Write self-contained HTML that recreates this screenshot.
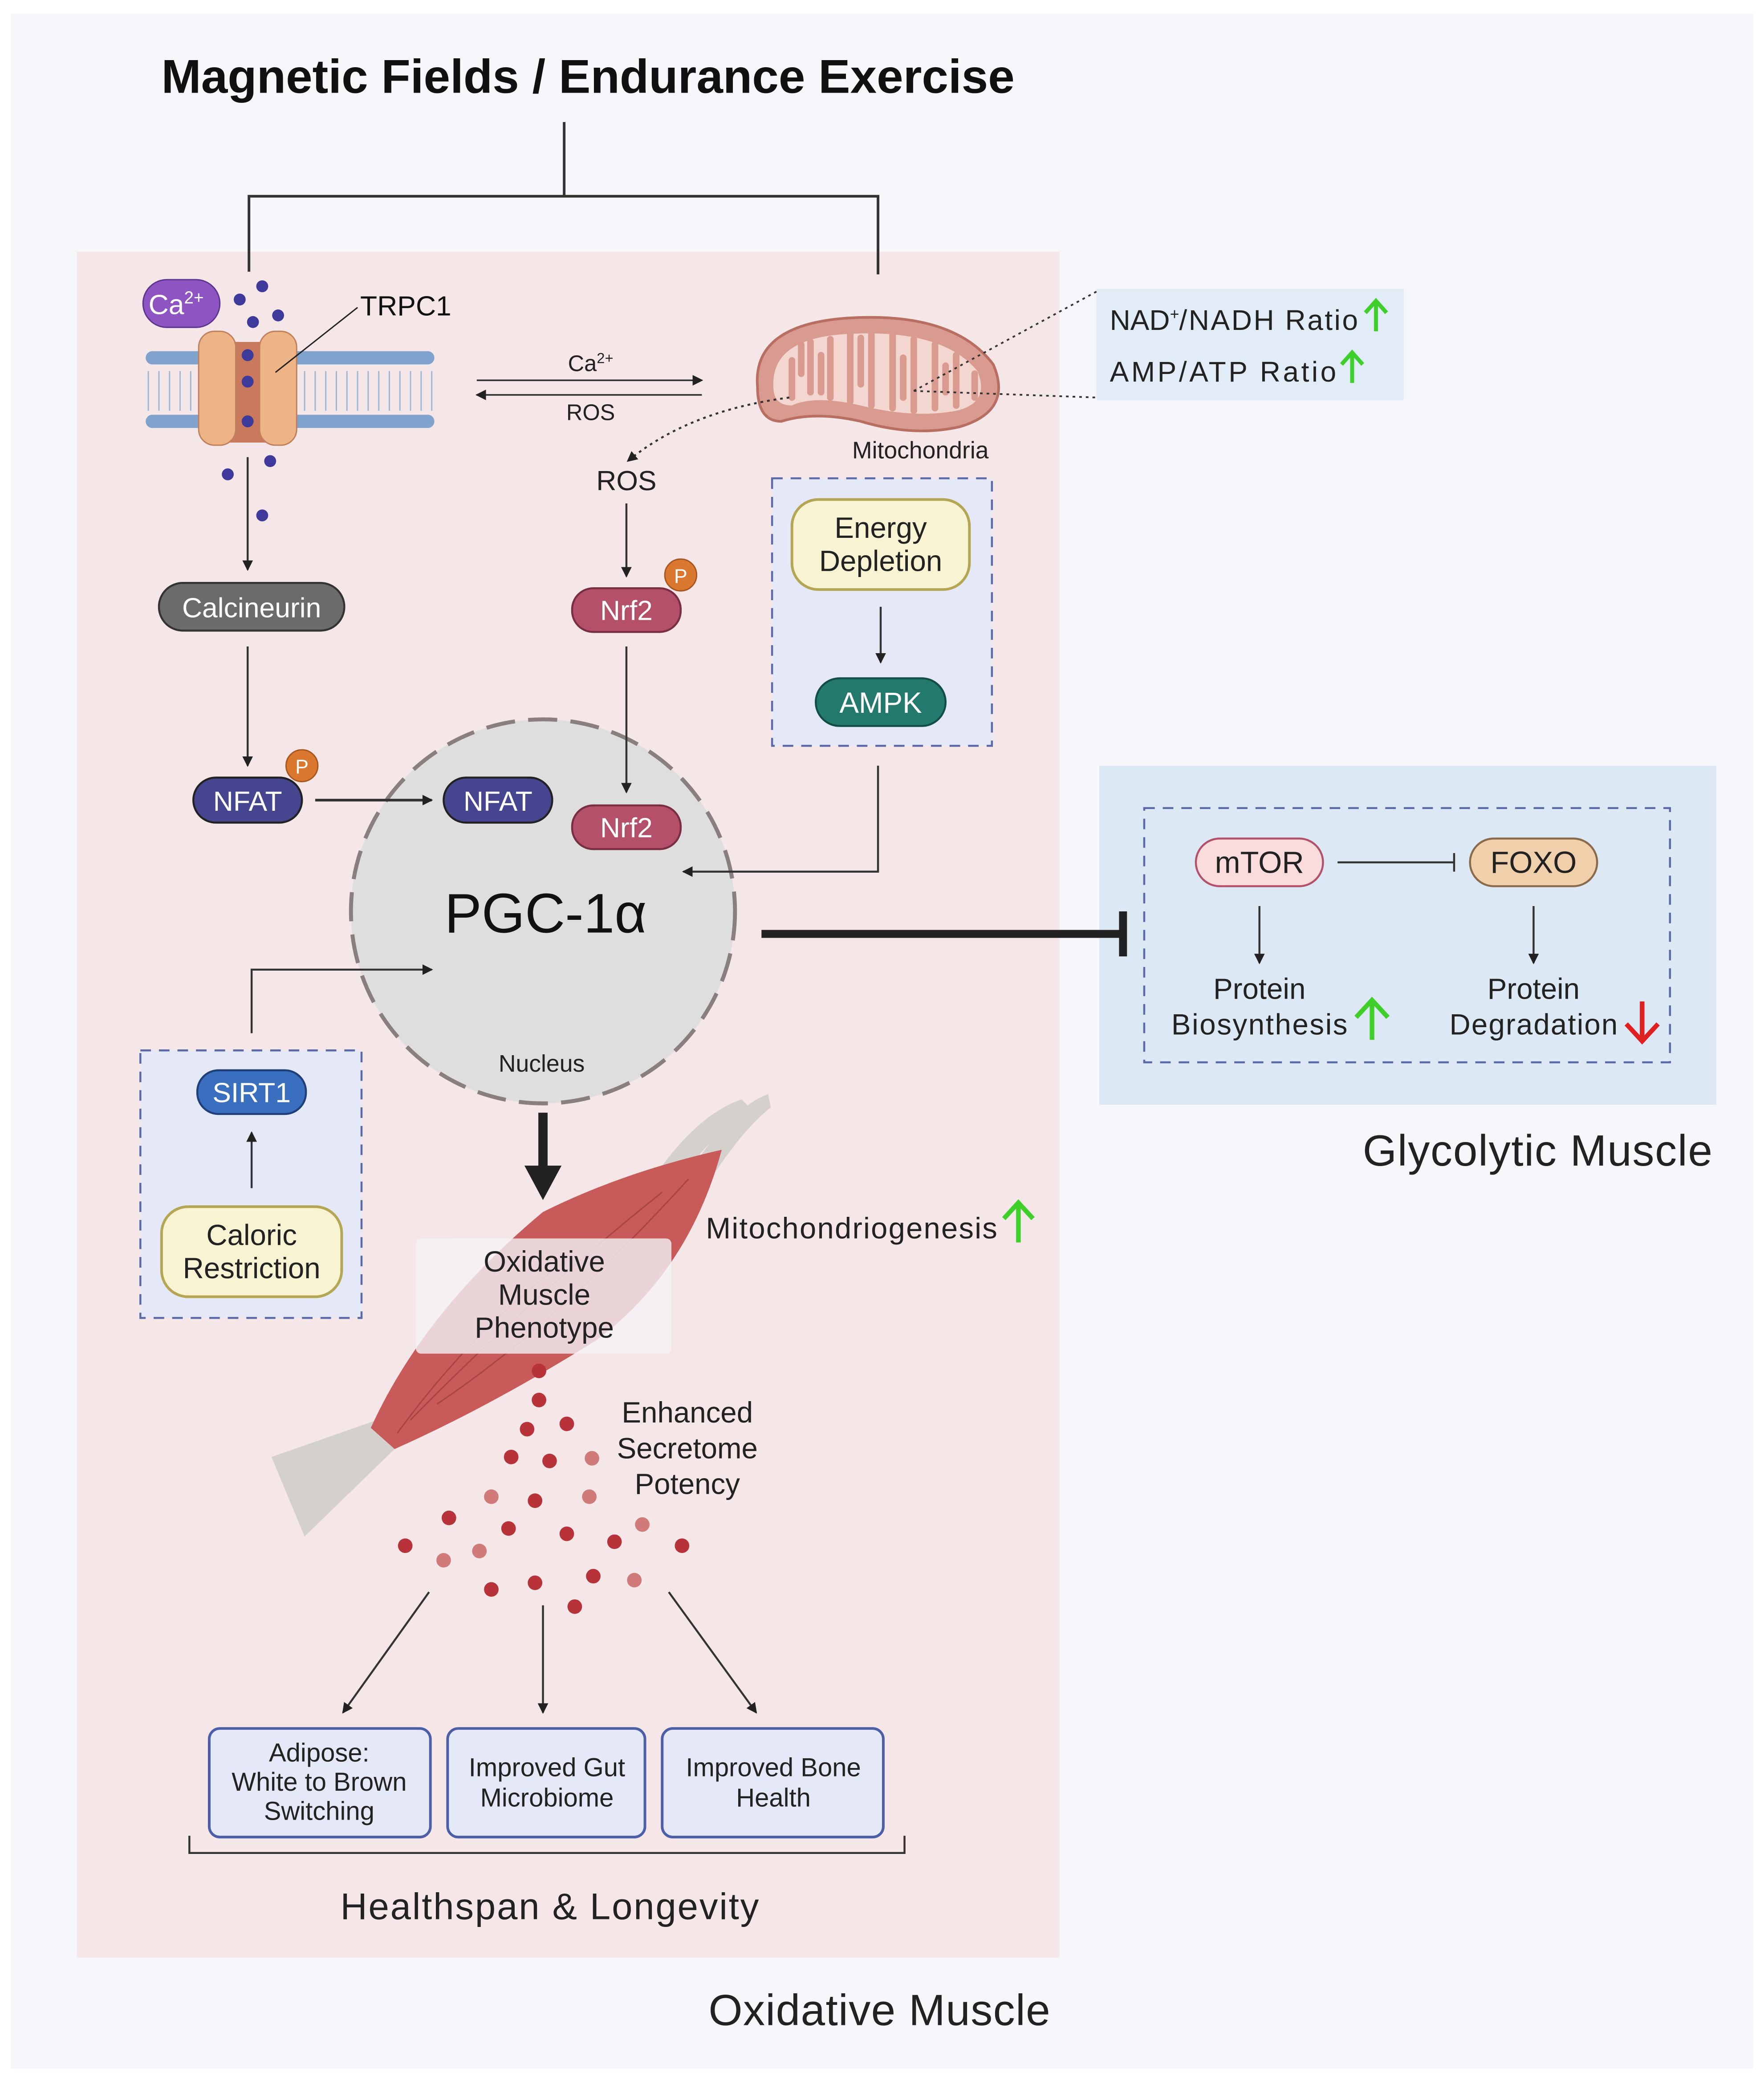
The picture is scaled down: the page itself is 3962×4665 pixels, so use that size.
<!DOCTYPE html>
<html><head><meta charset="utf-8"><style>
html,body{margin:0;padding:0;background:#fff;}
svg{display:block;font-family:"Liberation Sans",sans-serif;}
</style></head><body>
<svg width="3962" height="4665" viewBox="0 0 1332 1568" xmlns="http://www.w3.org/2000/svg">
<defs>
<marker id="a" markerWidth="8" markerHeight="8" refX="7" refY="4" orient="auto" markerUnits="userSpaceOnUse"><path d="M0,0 L8,4 L0,8 z" fill="#222"/></marker>
</defs>
<rect width="1332" height="1568" fill="#fff"/>
<rect x="8" y="10" width="1316" height="1552" fill="#f6f7fb"/>
<rect x="58" y="190" width="742" height="1288" fill="#f5e6e7"/>
<rect x="830" y="578" width="466" height="256" fill="#dce9f5"/>
<rect x="828" y="218" width="232" height="84" fill="#e1ecf7"/>

<text x="444" y="70" font-size="36" font-weight="bold" text-anchor="middle" fill="#111">Magnetic Fields / Endurance Exercise</text>
<path d="M426,92 V148 M188,205 V148 H663 V207" stroke="#333" stroke-width="2" fill="none"/>

<g fill="#7fa3cc">
<rect x="110" y="265" width="218" height="10" rx="5"/>
<rect x="110" y="313" width="218" height="10" rx="5"/>
</g>
<g stroke="#9cb8d8" stroke-width="1">
<path d="M112,280 V310 M120,280 V310 M128,280 V310 M136,280 V310 M144,280 V310 M230,280 V310 M238,280 V310 M246,280 V310 M254,280 V310 M262,280 V310 M270,280 V310 M278,280 V310 M286,280 V310 M294,280 V310 M302,280 V310 M310,280 V310 M318,280 V310 M326,280 V310"/>
</g>
<rect x="165" y="258" width="46" height="76" fill="#c97a5c"/>
<rect x="150" y="250" width="28" height="86" rx="12" fill="#eeb485" stroke="#c08060"/>
<rect x="196" y="250" width="28" height="86" rx="12" fill="#eeb485" stroke="#c08060"/>
<g fill="#3d3a9c"><circle cx="187" cy="268" r="4.5"/><circle cx="187" cy="288" r="4.5"/><circle cx="187" cy="318" r="4.5"/>
<circle cx="198" cy="216" r="4.5"/><circle cx="181" cy="226" r="4.5"/><circle cx="191" cy="243" r="4.5"/><circle cx="210" cy="238" r="4.5"/>
<circle cx="172" cy="358" r="4.5"/><circle cx="204" cy="348" r="4.5"/><circle cx="198" cy="389" r="4.5"/></g>
<rect x="108" y="211" width="58" height="36" rx="18" fill="#8e55c2" stroke="#5d3590"/>
<text x="133" y="237" font-size="21" fill="#fff" text-anchor="middle">Ca<tspan font-size="13" dy="-8">2+</tspan></text>
<path d="M208,281 L270,232" stroke="#222" stroke-width="1"/>
<text x="272" y="238" font-size="21" fill="#111">TRPC1</text>

<line x1="360" y1="287" x2="530" y2="287" stroke="#333" stroke-width="1.2" marker-end="url(#a)"/>
<line x1="530" y1="298" x2="360" y2="298" stroke="#333" stroke-width="1.2" marker-end="url(#a)"/>
<text x="446" y="280" font-size="17" text-anchor="middle" fill="#222">Ca<tspan font-size="11" dy="-6">2+</tspan></text>
<text x="446" y="317" font-size="17" text-anchor="middle" fill="#222">ROS</text>

<path d="M572,292 Q568,245 640,240 Q720,235 750,275 Q765,310 725,322 Q690,330 650,318 Q615,310 590,318 Q572,318 572,292 z" fill="#d99b8f" stroke="#b96e62" stroke-width="2"/>
<path d="M584,292 Q582,255 640,252 Q712,248 738,280 Q748,304 722,310 Q690,316 650,306 Q615,298 598,306 Q584,306 584,292 z" fill="#f3d6d0"/>
<path d="M598,300 V272 M612,296 V258 M627,300 V256 M642,303 V252 M658,306 V252 M674,308 V252 M690,310 V256 M706,308 V260 M722,306 V268 M736,300 V282 M605,260 V282 M620,296 V268 M650,290 V255 M682,300 V270 M714,296 V276" stroke="#d99b8f" stroke-width="5" stroke-linecap="round"/>
<text x="695" y="346" font-size="18" text-anchor="middle" fill="#222">Mitochondria</text>
<path d="M596,300 Q520,310 474,348" stroke="#333" stroke-width="1.5" stroke-dasharray="2,3" fill="none" marker-end="url(#a)"/>
<path d="M690,295 L828,220 M690,295 L828,300" stroke="#333" stroke-width="1.3" stroke-dasharray="2,3" fill="none"/>
<text x="838" y="249" font-size="21.5" fill="#222">NAD<tspan font-size="12" dy="-8">+</tspan><tspan dy="8" textLength="135">/NADH Ratio</tspan></text>
<text x="838" y="288" font-size="21.5" fill="#222" textLength="171">AMP/ATP Ratio</text>
<path d="M1039,250 V228 M1031,236 L1039,227 L1047,236 M1021,289 V267 M1013,275 L1021,266 L1029,275" stroke="#3fcf2a" stroke-width="3" fill="none"/>

<line x1="187" y1="345" x2="187" y2="430" stroke="#333" stroke-width="1.5" marker-end="url(#a)"/>
<rect x="120" y="440" width="140" height="36" rx="18" fill="#6b6b6b" stroke="#333" stroke-width="1.5"/>
<text x="190" y="466" font-size="21" fill="#fff" text-anchor="middle">Calcineurin</text>
<line x1="187" y1="488" x2="187" y2="578" stroke="#333" stroke-width="1.5" marker-end="url(#a)"/>
<rect x="146" y="587" width="82" height="34" rx="17" fill="#454590" stroke="#222" stroke-width="1.5"/>
<text x="187" y="612" font-size="21" fill="#fff" text-anchor="middle">NFAT</text>
<circle cx="228" cy="578" r="12" fill="#d9782e" stroke="#a85520"/><text x="228" y="584" font-size="15" fill="#fff" text-anchor="middle">P</text>

<text x="473" y="370" font-size="21" text-anchor="middle" fill="#222">ROS</text>
<line x1="473" y1="380" x2="473" y2="435" stroke="#333" stroke-width="1.5" marker-end="url(#a)"/>
<rect x="432" y="444" width="82" height="33" rx="16" fill="#b4506a" stroke="#7a2e42" stroke-width="1.5"/>
<text x="473" y="468" font-size="21" fill="#fff" text-anchor="middle">Nrf2</text>
<circle cx="514" cy="434" r="12" fill="#d9782e" stroke="#a85520"/><text x="514" y="440" font-size="15" fill="#fff" text-anchor="middle">P</text>

<rect x="583" y="361" width="166" height="202" fill="#e5e8f6" stroke="#5a6aa8" stroke-width="1.5" stroke-dasharray="8,6"/>
<rect x="598" y="377" width="134" height="68" rx="20" fill="#f8f3d3" stroke="#b4a653" stroke-width="2"/>
<text x="665" y="406" font-size="22" text-anchor="middle" fill="#222">Energy</text>
<text x="665" y="431" font-size="22" text-anchor="middle" fill="#222">Depletion</text>
<line x1="665" y1="458" x2="665" y2="500" stroke="#333" stroke-width="1.5" marker-end="url(#a)"/>
<rect x="616" y="512" width="98" height="36" rx="18" fill="#237a6c" stroke="#114e44" stroke-width="1.5"/>
<text x="665" y="538" font-size="22" fill="#fff" text-anchor="middle">AMPK</text>

<circle cx="410" cy="688" r="145" fill="#dedede" stroke="#8a7f7f" stroke-width="3" stroke-dasharray="22,10"/>
<path d="M663,578 V658 H516" stroke="#333" stroke-width="1.5" fill="none" marker-end="url(#a)"/>
<line x1="238" y1="604" x2="326" y2="604" stroke="#333" stroke-width="2" marker-end="url(#a)"/>
<rect x="335" y="587" width="82" height="34" rx="17" fill="#454590" stroke="#222" stroke-width="1.5"/>
<text x="376" y="612" font-size="21" fill="#fff" text-anchor="middle">NFAT</text>
<line x1="473" y1="488" x2="473" y2="598" stroke="#333" stroke-width="1.5" marker-end="url(#a)"/>
<rect x="432" y="608" width="82" height="33" rx="16" fill="#b4506a" stroke="#7a2e42" stroke-width="1.5"/>
<text x="473" y="632" font-size="21" fill="#fff" text-anchor="middle">Nrf2</text>
<text x="412" y="704" font-size="42" text-anchor="middle" fill="#111">PGC-1α</text>
<text x="409" y="809" font-size="18" text-anchor="middle" fill="#222">Nucleus</text>
<line x1="575" y1="705" x2="848" y2="705" stroke="#222" stroke-width="6"/>
<line x1="848" y1="688" x2="848" y2="722" stroke="#222" stroke-width="6"/>

<rect x="106" y="793" width="167" height="202" fill="#e5e8f6" stroke="#5a6aa8" stroke-width="1.5" stroke-dasharray="8,6"/>
<path d="M190,780 V732 H326" stroke="#333" stroke-width="1.5" fill="none" marker-end="url(#a)"/>
<rect x="149" y="808" width="82" height="33" rx="16" fill="#3a6fc0" stroke="#1f3f7a" stroke-width="1.5"/>
<text x="190" y="832" font-size="21" fill="#fff" text-anchor="middle">SIRT1</text>
<line x1="190" y1="897" x2="190" y2="855" stroke="#333" stroke-width="1.5" marker-end="url(#a)"/>
<rect x="122" y="911" width="136" height="68" rx="20" fill="#f8f3d3" stroke="#b4a653" stroke-width="2"/>
<text x="190" y="940" font-size="22" text-anchor="middle" fill="#222">Caloric</text>
<text x="190" y="965" font-size="22" text-anchor="middle" fill="#222">Restriction</text>

<path d="M500,880 Q530,840 560,830 L566,836 Q540,855 515,888 z M525,878 Q555,835 580,826 L582,836 Q562,852 540,885 z" fill="#d4d0cc"/>
<path d="M205,1100 L285,1072 L300,1092 L230,1160 z" fill="#d4d0cc"/>
<path d="M280,1078 Q320,990 410,915 Q470,885 545,868 Q520,960 450,1012 Q370,1062 298,1094 z" fill="#c85a5a"/>
<path d="M300,1082 Q360,1000 430,950 M310,1072 Q400,980 500,900 M330,1060 Q420,1000 520,890" stroke="#a84444" stroke-width="1" fill="none"/>
<line x1="410" y1="840" x2="410" y2="893" stroke="#222" stroke-width="7"/>
<path d="M396,880 L424,880 L410,906 z" fill="#222"/>
<rect x="314" y="935" width="193" height="87" rx="4" fill="#f4f3f7" opacity="0.8"/>
<text x="411" y="960" font-size="22" text-anchor="middle" fill="#222">Oxidative</text>
<text x="411" y="985" font-size="22" text-anchor="middle" fill="#222">Muscle</text>
<text x="411" y="1010" font-size="22" text-anchor="middle" fill="#222">Phenotype</text>
<text x="533" y="935" font-size="22.5" fill="#222" textLength="220">Mitochondriogenesis</text>
<path d="M769,938 V910 M758,920 L769,908 L780,920" stroke="#3fcf2a" stroke-width="3.5" fill="none"/>
<g fill="#b8323a">
<circle cx="407" cy="1035" r="5.5"/><circle cx="407" cy="1057" r="5.5"/><circle cx="398" cy="1079" r="5.5"/><circle cx="428" cy="1075" r="5.5"/>
<circle cx="386" cy="1100" r="5.5"/><circle cx="415" cy="1103" r="5.5"/><circle cx="404" cy="1133" r="5.5"/><circle cx="339" cy="1146" r="5.5"/>
<circle cx="384" cy="1154" r="5.5"/><circle cx="428" cy="1158" r="5.5"/><circle cx="464" cy="1164" r="5.5"/><circle cx="515" cy="1167" r="5.5"/>
<circle cx="306" cy="1167" r="5.5"/><circle cx="371" cy="1200" r="5.5"/><circle cx="404" cy="1195" r="5.5"/><circle cx="448" cy="1190" r="5.5"/><circle cx="434" cy="1213" r="5.5"/>
</g>
<g fill="#d07a7a"><circle cx="447" cy="1101" r="5.5"/><circle cx="371" cy="1130" r="5.5"/><circle cx="445" cy="1130" r="5.5"/><circle cx="485" cy="1151" r="5.5"/><circle cx="335" cy="1178" r="5.5"/><circle cx="362" cy="1171" r="5.5"/><circle cx="479" cy="1193" r="5.5"/></g>
<text x="519" y="1074" font-size="22" text-anchor="middle" fill="#222">Enhanced</text>
<text x="519" y="1101" font-size="22" text-anchor="middle" fill="#222">Secretome</text>
<text x="519" y="1128" font-size="22" text-anchor="middle" fill="#222">Potency</text>

<line x1="324" y1="1202" x2="259" y2="1293" stroke="#333" stroke-width="1.5" marker-end="url(#a)"/>
<line x1="410" y1="1212" x2="410" y2="1293" stroke="#333" stroke-width="1.5" marker-end="url(#a)"/>
<line x1="505" y1="1202" x2="571" y2="1293" stroke="#333" stroke-width="1.5" marker-end="url(#a)"/>
<g fill="#e5e8f6" stroke="#4d5ea8" stroke-width="2">
<rect x="158" y="1305" width="167" height="82" rx="8"/><rect x="338" y="1305" width="149" height="82" rx="8"/><rect x="500" y="1305" width="167" height="82" rx="8"/>
</g>
<g font-size="19.5" text-anchor="middle" fill="#222">
<text x="241" y="1330">Adipose:</text><text x="241" y="1352">White to Brown</text><text x="241" y="1374">Switching</text>
<text x="413" y="1341">Improved Gut</text><text x="413" y="1364">Microbiome</text>
<text x="584" y="1341">Improved Bone</text><text x="584" y="1364">Health</text>
</g>
<path d="M143,1386 V1399 H683 V1386" stroke="#333" stroke-width="1.5" fill="none"/>
<text x="415" y="1449" font-size="28" text-anchor="middle" fill="#222" textLength="316">Healthspan &amp; Longevity</text>
<text x="664" y="1529" font-size="33" text-anchor="middle" fill="#222" textLength="258">Oxidative Muscle</text>

<rect x="864" y="610" width="397" height="192" fill="none" stroke="#5a6aa8" stroke-width="1.5" stroke-dasharray="8,6"/>
<rect x="903" y="633" width="96" height="36" rx="18" fill="#fadcdc" stroke="#b4506a" stroke-width="1.5"/>
<text x="951" y="659" font-size="23" text-anchor="middle" fill="#222">mTOR</text>
<rect x="1110" y="633" width="96" height="36" rx="18" fill="#f0d0aa" stroke="#8a6a4a" stroke-width="1.5"/>
<text x="1158" y="659" font-size="23" text-anchor="middle" fill="#222">FOXO</text>
<line x1="1010" y1="651" x2="1098" y2="651" stroke="#333" stroke-width="1.5"/>
<line x1="1098" y1="644" x2="1098" y2="658" stroke="#333" stroke-width="1.5"/>
<line x1="951" y1="684" x2="951" y2="727" stroke="#333" stroke-width="1.5" marker-end="url(#a)"/>
<line x1="1158" y1="684" x2="1158" y2="727" stroke="#333" stroke-width="1.5" marker-end="url(#a)"/>
<text x="951" y="754" font-size="22" text-anchor="middle" fill="#222">Protein</text>
<text x="951" y="781" font-size="22" text-anchor="middle" fill="#222" textLength="133">Biosynthesis</text>
<text x="1158" y="754" font-size="22" text-anchor="middle" fill="#222">Protein</text>
<text x="1158" y="781" font-size="22" text-anchor="middle" fill="#222" textLength="127">Degradation</text>
<path d="M1036,785 V756 M1024,768 L1036,755 L1048,768" stroke="#3fcf2a" stroke-width="3.5" fill="none"/>
<path d="M1240,756 V785 M1228,773 L1240,786 L1252,773" stroke="#e02020" stroke-width="3.5" fill="none"/>
<text x="1293" y="880" font-size="33" text-anchor="end" fill="#222" textLength="264">Glycolytic Muscle</text>
</svg>
</body></html>
